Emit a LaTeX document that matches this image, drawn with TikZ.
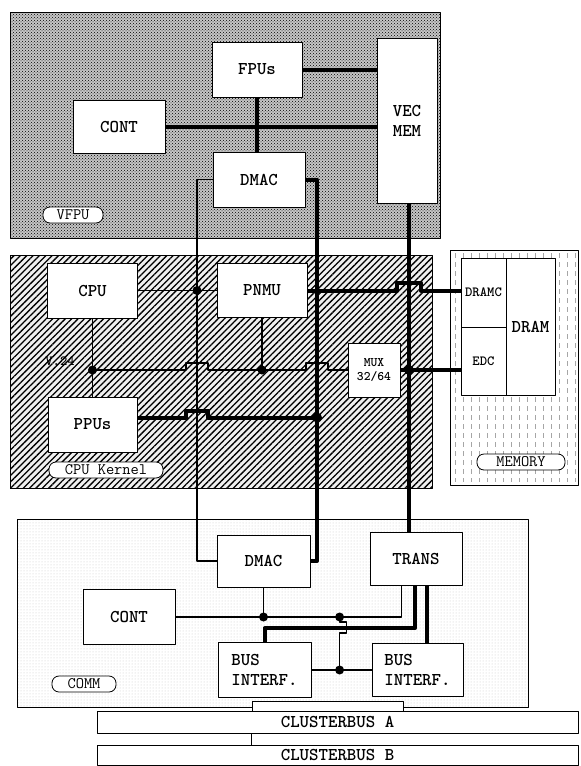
\documentclass[tikz,border=0pt]{standalone}
\usepackage{fontspec}
\usetikzlibrary{patterns,patterns.meta,calc,positioning}

\begin{document}
\begin{tikzpicture}[x=1pt, y=-1pt, line join=round,
    font=\fontsize{18}{20}\selectfont\ttfamily\bfseries,
    unit/.style={draw, line width=0.8pt, fill=white, inner sep=1pt, align=center,
                 minimum width=90pt, minimum height=55pt},
    small/.style={font=\fontsize{14}{15}\selectfont\ttfamily\bfseries},
    tag/.style={draw, line width=0.8pt, fill=white, rounded corners=7pt, inner sep=2pt,
                minimum height=16pt, font=\fontsize{16}{17}\selectfont\ttfamily},
    region/.style={draw, line width=0.7pt},
    bus/.style={line width=1.6pt},
    wbus/.style={line width=4pt},
    memtex/.style={gray!70, line width=0.6pt, dash pattern=on 5pt off 4pt}]
  \useasboundingbox (0,0) rectangle (581,766);

  % regions
  \fill[gray!45] (10,12) rectangle (440,238);
  \draw[region, pattern=crosshatch dots] (10,12) rectangle (440,238);
  \fill[gray!12] (10,255) rectangle (432,488);
  \draw[region, pattern={Lines[angle=45, distance=4.5pt, line width=1.3pt]}]
    (10,255) rectangle (432,488);
  \draw[region, fill=white] (450,250) rectangle (578,485);
  \foreach \x in {455,463,...,575}
    \draw[memtex] (\x,253) -- (\x,482);
  \draw[region, pattern=dots, pattern color=gray!45] (17,519) rectangle (528,707);

  % VFPU
  \node[unit] (fpus) at (257,69.5) {FPUs};
  \node[unit, minimum width=92pt, minimum height=53pt] (vcont) at (119,126.5) {CONT};
  \node[unit, minimum width=60pt, minimum height=165pt] (vecmem) at (407,120.5) {VEC\\MEM};
  \node[unit, minimum width=92pt] (vdmac) at (259,179.5) {DMAC};
  \node[tag, minimum width=60pt] (vfpulbl) at (73,215) {VFPU};

  % CPU kernel
  \node[unit] (cpu) at (92.5,290.5) {CPU};
  \node[unit, minimum height=54pt] (pnmu) at (262,290.5) {PNMU};
  \node[unit, minimum width=89pt] (ppus) at (92.5,424.5) {PPUs};
  \node[unit, minimum width=52pt, minimum height=54pt,
        font=\fontsize{13}{14}\selectfont\ttfamily\bfseries] (mux) at (374,370) {MUX\\32/64};
  \node[tag, minimum width=114pt] (cpulbl) at (106,470) {CPU Kernel};
  \node[small] (v24lbl) at (60,361) {V.24};

  % memory
  \node[unit, small, minimum width=45pt, minimum height=69pt] (dramc) at (483.5,292.5) {DRAMC};
  \node[unit, small, minimum width=45pt, minimum height=68pt] (edc) at (483.5,361) {EDC};
  \node[unit, minimum width=49pt, minimum height=137pt] (dram) at (530.5,326.5) {DRAM};
  \node[tag, minimum width=88pt] (memlbl) at (521,462) {MEMORY};

  % COMM
  \node[unit, minimum width=93pt, minimum height=52pt] (cdmac) at (263.5,561) {DMAC};
  \node[unit, minimum width=92pt, minimum height=53pt] (trans) at (416,558.5) {TRANS};
  \node[unit, minimum width=92pt] (ccont) at (129,617) {CONT};
  \node[unit, minimum width=93pt, align=left] (bi1) at (264.5,670) {BUS\\INTERF.};
  \node[unit, minimum width=91pt, minimum height=53pt, align=left] (bi2) at (417.5,670) {BUS\\INTERF.};
  \node[tag, minimum width=64pt] (commlbl) at (84,684) {COMM};

  % cluster busses
  \node[draw, line width=0.8pt, fill=white, minimum width=151pt, minimum height=10pt,
        inner sep=0pt] (stub) at (327.5,706) {};
  \node[draw, line width=0.8pt, fill=white, minimum width=481pt, minimum height=22pt,
        inner sep=0pt] (busa) at (337.5,722) {CLUSTERBUS A};
  \node[draw, line width=0.8pt, fill=white, minimum width=481pt, minimum height=20pt,
        inner sep=0pt] (busb) at (337.5,755) {CLUSTERBUS B};
  \draw[line width=0.8pt] (busa.south -| stub.west) -- (busb.north -| stub.west);

  % vertical busses
  \coordinate (xa) at (197,0);
  \coordinate (xb) at (317,0);
  \coordinate (xc) at (409,0);

  \draw[wbus] (fpus.east) -- (fpus.east -| vecmem.west);
  \draw[wbus] (vcont.east) -- (vcont.east -| vecmem.west);
  \draw[wbus] (fpus.south) -- (fpus.south |- vdmac.north);

  \draw[bus] (vdmac.west) -- (vdmac.west -| xa) -- (xa |- cdmac.west) -- (cdmac.west);
  \draw[wbus] (vdmac.east) -- (vdmac.east -| xb) -- (xb |- cdmac.east) -- (cdmac.east);
  \draw[wbus] (vecmem.south -| xc) -- (xc |- trans.north);

  % CPU kernel links
  \draw[bus] (cpu.east) -- (pnmu.west);
  \fill (cpu.east -| xa) circle[radius=4.5];
  \draw[wbus] (pnmu.east) -- ($(pnmu.east -| xc)+(-12,0)$) -- ++(0,-8) -- ++(24,0)
    -- ++(0,8) -- (pnmu.east -| dramc.west);

  \coordinate (v24) at (cpu.south |- mux.west);
  \draw[bus] (cpu.south) -- (ppus.north);
  \draw[bus] (v24) -- ($(v24 -| xa)+(-11,0)$) -- ++(0,-7) -- ++(22,0) -- ++(0,7)
    -- ($(v24 -| xb)+(-11,0)$) -- ++(0,-7) -- ++(22,0) -- ++(0,7) -- (mux.west);
  \draw[bus] (pnmu.south) -- (pnmu.south |- v24);
  \fill (v24) circle[radius=4.5];
  \fill (pnmu.south |- v24) circle[radius=4.5];

  \coordinate (pp) at ($(ppus.east)+(0,-7)$);
  \draw[wbus] (pp) -- ($(pp -| xa)+(-11,0)$) -- ++(0,-7) -- ++(22,0) -- ++(0,7) -- (pp -| xb);
  \fill (pp -| xb) circle[radius=5];

  \draw[wbus] (mux.east) -- (mux.east -| edc.west);
  \fill (mux.east -| xc) circle[radius=5];

  % COMM links
  \coordinate (cj) at ($(ccont.east -| trans.west)+(-30,0)$);
  \coordinate (tl) at ($(trans.south west)+(32,0)$);
  \coordinate (tm) at ($(trans.south west)+(45,0)$);
  \coordinate (tr) at ($(trans.south west)+(57,0)$);
  \draw[bus] (ccont.east) -- (ccont.east -| tl) -- (tl);
  \draw[bus] (cdmac.south) -- (cdmac.south |- ccont.east);
  \fill (cdmac.south |- ccont.east) circle[radius=4.5];
  \fill (cj) circle[radius=4.5];
  \draw[wbus] (tm) -- ++(0,43) -| (bi1.north);
  \draw[wbus] (tr) -- (tr |- bi2.north);
  \draw[bus] (cj) -- ++(0,5) -- ++(7,0) -- ++(0,11) -- ++(-7,0) -- (cj |- bi1.east);
  \draw[bus] (bi1.east) -- (bi2.west);
  \fill (cj |- bi1.east) circle[radius=4.5];
\end{tikzpicture}
\end{document}
